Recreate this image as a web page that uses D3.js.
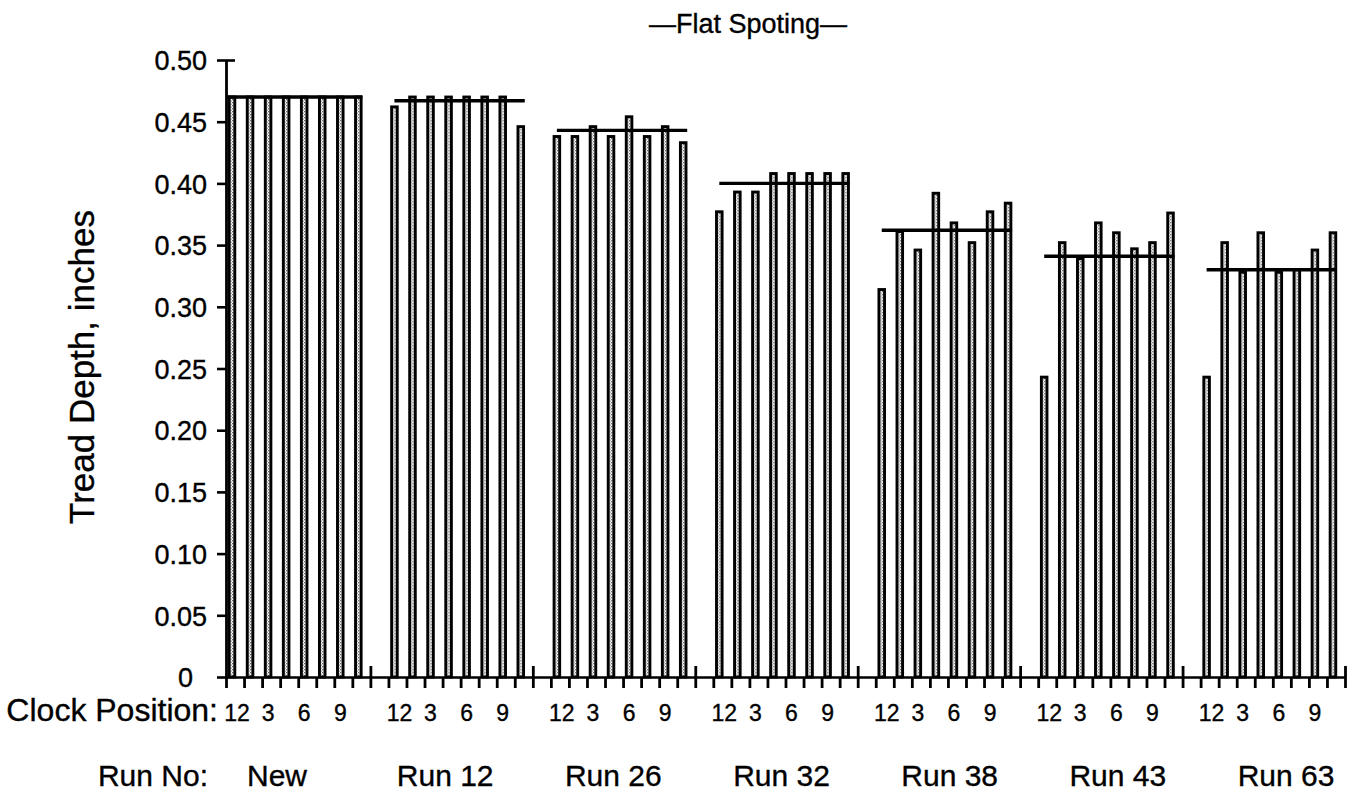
<!DOCTYPE html>
<html>
<head>
<meta charset="utf-8">
<script src="https://cdn.jsdelivr.net/npm/d3@7"></script>
<style>
  html, body { margin: 0; padding: 0; background: #fff; }
  svg { display: block; }
  text { font-family: "Liberation Sans", Arial, Helvetica, sans-serif; fill: #000; stroke: #000; stroke-width: 0.35px; }
</style>
</head>
<body>
<svg id="chart" width="1361" height="792"></svg>
<script>
// ---- data ----
const runs = ["New", "Run 12", "Run 26", "Run 32", "Run 38", "Run 43", "Run 63"];
const clockPositions = ["12", "1:30", "3", "4:30", "6", "7:30", "9", "10:30"];
const clockTickLabels = ["12", "", "3", "", "6", "", "9", ""];
const depthNew   = [0.470, 0.470, 0.470, 0.470, 0.470, 0.470, 0.470, 0.470];
const depthRun12 = [0.462, 0.470, 0.470, 0.470, 0.470, 0.470, 0.470, 0.446];
const depthRun26 = [0.438, 0.438, 0.446, 0.438, 0.454, 0.438, 0.446, 0.433];
const depthRun32 = [0.377, 0.393, 0.393, 0.408, 0.408, 0.408, 0.408, 0.408];
const depthRun38 = [0.314, 0.361, 0.346, 0.392, 0.368, 0.352, 0.377, 0.384];
const depthRun43 = [0.243, 0.352, 0.339, 0.368, 0.360, 0.347, 0.352, 0.376];
const depthRun63 = [0.243, 0.352, 0.328, 0.360, 0.328, 0.330, 0.346, 0.360];
const meanDepth  = [0.470, 0.467, 0.443, 0.400, 0.362, 0.341, 0.330];
const yTicks = [0, 0.05, 0.10, 0.15, 0.20, 0.25, 0.30, 0.35, 0.40, 0.45, 0.50];
const titleText = "\u2014Flat Spoting\u2014";
const yTitle = "Tread Depth, inches";
const clockRowLabel = "Clock Position:";
const runRowLabel = "Run No:";

const seriesByRun = [depthNew, depthRun12, depthRun26, depthRun32, depthRun38, depthRun43, depthRun63];

// ---- layout ----
const svg = d3.select("#chart");
const x0 = 226, xEnd = 1345, yBase = 677, yTop = 60;
const slot = (xEnd - x0) / 62;

const y = d3.scaleLinear().domain([0, 0.5]).range([yBase, yTop]);
const xGroup = d3.scaleBand().domain(runs).range([x0, x0 + 63 * slot]).paddingInner(0).paddingOuter(0);
const xPos = d3.scaleBand().domain(clockPositions).range([0, xGroup.bandwidth() * 8 / 9]).padding(0);
const slotScale = d3.scaleLinear().domain([0, 62]).range([x0, xEnd]);
const xLabel = d3.scalePoint().domain(runs).range([277, 1286]);

// pattern
const defs = svg.append("defs");
const pat = defs.append("pattern").attr("id", "stipple").attr("patternUnits", "userSpaceOnUse")
  .attr("width", 3).attr("height", 3);
pat.append("rect").attr("width", 3).attr("height", 3).attr("fill", "#fff");
pat.append("rect").attr("x", 0).attr("y", 0).attr("width", 1.3).attr("height", 1.3).attr("fill", "#666");
pat.append("rect").attr("x", 1.5).attr("y", 1.5).attr("width", 1.3).attr("height", 1.3).attr("fill", "#888");

// title
svg.append("text").attr("x", 847).attr("y", 33).attr("text-anchor", "end")
  .attr("font-size", 27).text(titleText);

// y axis title
svg.append("text").attr("transform", "translate(94,367) rotate(-90)")
  .attr("text-anchor", "middle").attr("font-size", 35).text(yTitle);

// bars
const groups = svg.append("g").selectAll("g.grp").data(runs).join("g")
  .attr("class", "grp").attr("transform", d => `translate(${xGroup(d)},0)`);

groups.each(function(run, gi) {
  const g = d3.select(this);
  const vals = seriesByRun[gi];
  g.selectAll("rect.bar").data(vals).join("rect")
    .attr("class", "bar")
    .attr("x", (d, i) => xPos(clockPositions[i]) + 3.2)
    .attr("width", 5.6)
    .attr("y", d => y(d))
    .attr("height", d => y(0) - y(d))
    .attr("fill", "url(#stipple)")
    .attr("stroke", "#000").attr("stroke-width", 2.9);
  // mean line
  g.append("line")
    .attr("x1", gi === 0 ? 0 : xPos(clockPositions[0]) + 6)
    .attr("x2", xPos(clockPositions[7]) + 10)
    .attr("y1", y(meanDepth[gi])).attr("y2", y(meanDepth[gi]))
    .attr("stroke", "#000").attr("stroke-width", 3.4);
  // clock labels
  g.selectAll("text.clk").data(clockTickLabels).join("text")
    .attr("class", "clk")
    .attr("x", (d, i) => xPos(clockPositions[i]) + 6 + (d === "12" ? 5 : 0))
    .attr("y", 721).attr("text-anchor", "middle").attr("font-size", 23)
    .text(d => d);
});

// x axis
const xAxisG = svg.append("g").attr("transform", `translate(0,${yBase})`)
  .call(d3.axisBottom(slotScale).tickValues(d3.range(0, 63)).tickSize(11).tickSizeOuter(0).tickFormat(""));
xAxisG.select(".domain").attr("stroke", "#000").attr("stroke-width", 2.6);
xAxisG.selectAll(".tick line").attr("stroke", "#000").attr("stroke-width", 2.8)
  .attr("y1", d => (d % 9 === 8) ? -11 : 0);

// y axis
const yAxisG = svg.append("g").attr("transform", `translate(${x0},0)`)
  .call(d3.axisLeft(y).tickValues(yTicks).tickSize(9).tickSizeOuter(0).tickPadding(10)
    .tickFormat(d => d === 0 ? "0" : d3.format(".2f")(d)));
yAxisG.select(".domain").attr("stroke", "#000").attr("stroke-width", 2.8);
yAxisG.selectAll(".tick line").attr("stroke", "#000").attr("stroke-width", 2.6)
  .attr("x2", d => -9).attr("x1", d => d === 0.5 ? 9 : 0);
yAxisG.selectAll(".tick text").attr("font-size", 27).attr("dy", "0.36em")
  .attr("dx", d => d === 0 ? -14 : 0)
  .style("font-family", "'Liberation Sans', Arial, sans-serif");

// row labels
svg.append("text").attr("x", 218).attr("y", 721).attr("text-anchor", "end")
  .attr("font-size", 32).text(clockRowLabel);
svg.append("text").attr("x", 208).attr("y", 786).attr("text-anchor", "end")
  .attr("font-size", 30).text(runRowLabel);
svg.append("g").selectAll("text.run").data(runs).join("text")
  .attr("class", "run").attr("x", d => xLabel(d)).attr("y", 786)
  .attr("text-anchor", "middle").attr("font-size", 30).text(d => d);
</script>
</body>
</html>
